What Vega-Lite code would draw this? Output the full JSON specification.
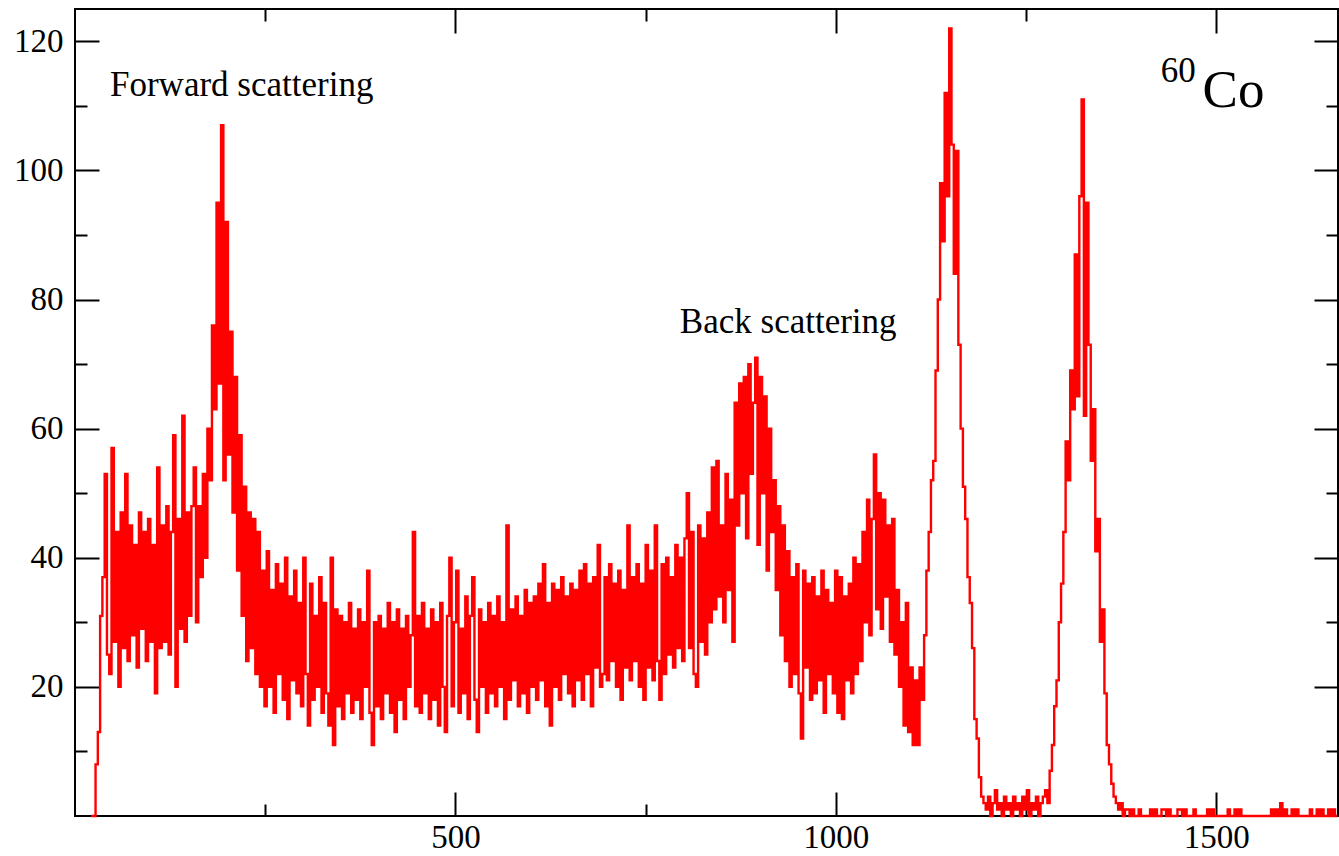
{
"$schema": "https://vega.github.io/schema/vega-lite/v6.json",
"width": 1263, "height": 807,
"autosize": {"type": "none"},
"padding": {"left": 75, "top": 9, "right": 1, "bottom": 40},
"background": "white",
"config": {
  "view": {"stroke": "black", "strokeWidth": 2},
  "axis": {"labelFont": "Liberation Serif", "labelFontSize": 33, "labelColor": "black", "tickColor": "black", "tickWidth": 2, "domain": false, "grid": false, "title": null, "labelOverlap": false, "labelFlush": false}
},
"resolve": {"axis": {"x": "independent", "y": "independent"}},
"layer": [
{
"data": {"values": [
{"ch":21,"counts":0},{"ch":24,"counts":0},{"ch":27,"counts":8},{"ch":30,"counts":13},{"ch":33,"counts":31},{"ch":36,"counts":37},
{"ch":39,"counts":53},{"ch":42,"counts":25},{"ch":45,"counts":22},{"ch":48,"counts":57},{"ch":51,"counts":27},{"ch":54,"counts":44},{"ch":57,"counts":20},{"ch":60,"counts":47},{"ch":63,"counts":26},{"ch":66,"counts":53},{"ch":69,"counts":24},{"ch":72,"counts":45},{"ch":75,"counts":28},{"ch":78,"counts":42},{"ch":81,"counts":23},{"ch":84,"counts":47},{"ch":87,"counts":29},{"ch":90,"counts":44},{"ch":93,"counts":24},{"ch":96,"counts":46},{"ch":99,"counts":27},{"ch":102,"counts":42},{"ch":105,"counts":19},{"ch":108,"counts":54},{"ch":111,"counts":26},{"ch":114,"counts":45},{"ch":117,"counts":27},{"ch":120,"counts":48},{"ch":123,"counts":25},{"ch":126,"counts":44},{"ch":129,"counts":59},{"ch":132,"counts":20},{"ch":135,"counts":46},{"ch":138,"counts":29},{"ch":141,"counts":62},{"ch":144,"counts":27},{"ch":147,"counts":47},{"ch":150,"counts":31},{"ch":153,"counts":48},{"ch":156,"counts":54},{"ch":159,"counts":30},{"ch":162,"counts":48},{"ch":165,"counts":37},
{"ch":168,"counts":53},{"ch":171,"counts":40},{"ch":174,"counts":60},{"ch":177,"counts":52},{"ch":180,"counts":76},{"ch":183,"counts":63},{"ch":186,"counts":95},{"ch":189,"counts":67},{"ch":192,"counts":107},{"ch":195,"counts":52},{"ch":198,"counts":92},{"ch":201,"counts":56},{"ch":204,"counts":75},{"ch":207,"counts":47},{"ch":210,"counts":68},{"ch":213,"counts":38},{"ch":216,"counts":59},{"ch":219,"counts":31},{"ch":222,"counts":51},{"ch":225,"counts":24},{"ch":228,"counts":47},{"ch":231,"counts":26},{"ch":234,"counts":46},{"ch":237,"counts":22},{"ch":240,"counts":44},{"ch":243,"counts":20},
{"ch":246,"counts":38},{"ch":249,"counts":17},{"ch":252,"counts":41},{"ch":255,"counts":20},{"ch":258,"counts":35},{"ch":261,"counts":16},{"ch":264,"counts":39},{"ch":267,"counts":22},{"ch":270,"counts":36},{"ch":273,"counts":18},{"ch":276,"counts":40},{"ch":279,"counts":15},{"ch":282,"counts":34},{"ch":285,"counts":21},{"ch":288,"counts":38},{"ch":291,"counts":19},{"ch":294,"counts":33},{"ch":297,"counts":17},{"ch":300,"counts":40},{"ch":303,"counts":22},{"ch":306,"counts":14},{"ch":309,"counts":36},{"ch":312,"counts":18},{"ch":315,"counts":31},{"ch":318,"counts":20},{"ch":321,"counts":37},{"ch":324,"counts":16},{"ch":327,"counts":33},{"ch":330,"counts":19},{"ch":333,"counts":14},{"ch":336,"counts":40},{"ch":339,"counts":11},{"ch":342,"counts":32},
{"ch":345,"counts":17},{"ch":348,"counts":31},{"ch":351,"counts":15},{"ch":354,"counts":30},{"ch":357,"counts":19},{"ch":360,"counts":33},{"ch":363,"counts":16},{"ch":366,"counts":29},{"ch":369,"counts":18},{"ch":372,"counts":32},{"ch":375,"counts":15},{"ch":378,"counts":30},{"ch":381,"counts":20},{"ch":384,"counts":38},{"ch":387,"counts":16},{"ch":390,"counts":11},{"ch":393,"counts":30},{"ch":396,"counts":17},{"ch":399,"counts":31},{"ch":402,"counts":15},{"ch":405,"counts":29},{"ch":408,"counts":19},{"ch":411,"counts":33},{"ch":414,"counts":16},{"ch":417,"counts":30},{"ch":420,"counts":13},{"ch":423,"counts":32},{"ch":426,"counts":18},{"ch":429,"counts":29},{"ch":432,"counts":15},{"ch":435,"counts":31},{"ch":438,"counts":20},{"ch":441,"counts":28},{"ch":444,"counts":44},{"ch":447,"counts":17},{"ch":450,"counts":31},{"ch":453,"counts":16},{"ch":456,"counts":33},{"ch":459,"counts":19},{"ch":462,"counts":29},{"ch":465,"counts":15},{"ch":468,"counts":32},{"ch":471,"counts":18},{"ch":474,"counts":30},{"ch":477,"counts":14},{"ch":480,"counts":33},{"ch":483,"counts":20},{"ch":486,"counts":13},{"ch":489,"counts":31},{"ch":492,"counts":40},{"ch":495,"counts":17},{"ch":498,"counts":30},{"ch":501,"counts":38},{"ch":504,"counts":16},{"ch":507,"counts":29},{"ch":510,"counts":19},{"ch":513,"counts":34},{"ch":516,"counts":15},{"ch":519,"counts":31},{"ch":522,"counts":37},{"ch":525,"counts":18},{"ch":528,"counts":13},{"ch":531,"counts":32},{"ch":534,"counts":20},{"ch":537,"counts":30},{"ch":540,"counts":16},{"ch":543,"counts":33},{"ch":546,"counts":19},{"ch":549,"counts":31},{"ch":552,"counts":17},{"ch":555,"counts":34},{"ch":558,"counts":20},{"ch":561,"counts":30},{"ch":564,"counts":15},{"ch":567,"counts":45},{"ch":570,"counts":18},{"ch":573,"counts":32},{"ch":576,"counts":21},{"ch":579,"counts":34},{"ch":582,"counts":17},{"ch":585,"counts":31},{"ch":588,"counts":19},{"ch":591,"counts":35},{"ch":594,"counts":16},{"ch":597,"counts":33},{"ch":600,"counts":20},
{"ch":603,"counts":34},{"ch":606,"counts":18},{"ch":609,"counts":36},{"ch":612,"counts":21},{"ch":615,"counts":39},{"ch":618,"counts":17},{"ch":621,"counts":33},{"ch":624,"counts":14},{"ch":627,"counts":36},{"ch":630,"counts":20},{"ch":633,"counts":35},{"ch":636,"counts":18},{"ch":639,"counts":37},{"ch":642,"counts":22},{"ch":645,"counts":34},{"ch":648,"counts":19},{"ch":651,"counts":36},{"ch":654,"counts":17},{"ch":657,"counts":35},{"ch":660,"counts":21},{"ch":663,"counts":38},{"ch":666,"counts":18},{"ch":669,"counts":39},{"ch":672,"counts":22},{"ch":675,"counts":36},{"ch":678,"counts":17},{"ch":681,"counts":37},{"ch":684,"counts":23},{"ch":687,"counts":42},{"ch":690,"counts":20},
{"ch":693,"counts":22},{"ch":696,"counts":37},{"ch":699,"counts":21},{"ch":702,"counts":39},{"ch":705,"counts":24},{"ch":708,"counts":36},{"ch":711,"counts":20},{"ch":714,"counts":38},{"ch":717,"counts":18},{"ch":720,"counts":35},{"ch":723,"counts":23},{"ch":726,"counts":45},{"ch":729,"counts":21},{"ch":732,"counts":37},{"ch":735,"counts":24},{"ch":738,"counts":39},{"ch":741,"counts":20},{"ch":744,"counts":36},{"ch":747,"counts":18},{"ch":750,"counts":42},{"ch":753,"counts":23},{"ch":756,"counts":38},{"ch":759,"counts":21},{"ch":762,"counts":45},{"ch":765,"counts":24},{"ch":768,"counts":18},{"ch":771,"counts":39},{"ch":774,"counts":22},{"ch":777,"counts":40},{"ch":780,"counts":25},{"ch":783,"counts":37},{"ch":786,"counts":23},{"ch":789,"counts":42},{"ch":792,"counts":26},{"ch":795,"counts":40},
{"ch":798,"counts":24},{"ch":801,"counts":43},{"ch":804,"counts":50},{"ch":807,"counts":26},{"ch":810,"counts":44},{"ch":813,"counts":22},{"ch":816,"counts":20},{"ch":819,"counts":45},{"ch":822,"counts":27},{"ch":825,"counts":43},{"ch":828,"counts":25},{"ch":831,"counts":47},{"ch":834,"counts":30},
{"ch":837,"counts":54},{"ch":840,"counts":32},{"ch":843,"counts":55},{"ch":846,"counts":34},{"ch":849,"counts":45},{"ch":852,"counts":30},{"ch":855,"counts":53},{"ch":858,"counts":35},{"ch":861,"counts":49},{"ch":864,"counts":27},{"ch":867,"counts":64},
{"ch":870,"counts":45},{"ch":873,"counts":67},{"ch":876,"counts":50},{"ch":879,"counts":68},{"ch":882,"counts":43},{"ch":885,"counts":70},{"ch":888,"counts":53},{"ch":891,"counts":64},{"ch":894,"counts":71},{"ch":897,"counts":42},{"ch":900,"counts":68},{"ch":903,"counts":50},{"ch":906,"counts":65},{"ch":909,"counts":38},
{"ch":912,"counts":60},{"ch":915,"counts":44},{"ch":918,"counts":52},{"ch":921,"counts":35},{"ch":924,"counts":48},{"ch":927,"counts":28},{"ch":930,"counts":45},{"ch":933,"counts":24},{"ch":936,"counts":41},
{"ch":939,"counts":20},{"ch":942,"counts":37},{"ch":945,"counts":22},{"ch":948,"counts":39},{"ch":951,"counts":19},{"ch":954,"counts":12},{"ch":957,"counts":38},{"ch":960,"counts":23},{"ch":963,"counts":36},{"ch":966,"counts":18},{"ch":969,"counts":37},{"ch":972,"counts":19},{"ch":975,"counts":34},{"ch":978,"counts":21},{"ch":981,"counts":38},{"ch":984,"counts":16},{"ch":987,"counts":35},{"ch":990,"counts":22},{"ch":993,"counts":33},{"ch":996,"counts":19},{"ch":999,"counts":38},{"ch":1002,"counts":16},{"ch":1005,"counts":37},{"ch":1008,"counts":15},{"ch":1011,"counts":34},{"ch":1014,"counts":21},{"ch":1017,"counts":36},{"ch":1020,"counts":19},{"ch":1023,"counts":40},{"ch":1026,"counts":22},{"ch":1029,"counts":39},{"ch":1032,"counts":24},{"ch":1035,"counts":44},
{"ch":1038,"counts":30},{"ch":1041,"counts":49},{"ch":1044,"counts":28},{"ch":1047,"counts":46},{"ch":1050,"counts":56},{"ch":1053,"counts":32},{"ch":1056,"counts":50},{"ch":1059,"counts":29},{"ch":1062,"counts":49},{"ch":1065,"counts":34},{"ch":1068,"counts":45},{"ch":1071,"counts":27},{"ch":1074,"counts":46},
{"ch":1077,"counts":25},{"ch":1080,"counts":35},{"ch":1083,"counts":20},{"ch":1086,"counts":30},{"ch":1089,"counts":14},{"ch":1092,"counts":33},
{"ch":1095,"counts":13},{"ch":1098,"counts":23},{"ch":1101,"counts":11},{"ch":1104,"counts":21},{"ch":1107,"counts":11},{"ch":1110,"counts":23},{"ch":1113,"counts":18},{"ch":1116,"counts":28},{"ch":1119,"counts":38},{"ch":1122,"counts":44},{"ch":1125,"counts":52},{"ch":1128,"counts":55},{"ch":1131,"counts":69},{"ch":1134,"counts":80},{"ch":1137,"counts":98},{"ch":1140,"counts":89},{"ch":1143,"counts":112},{"ch":1146,"counts":96},{"ch":1149,"counts":122},{"ch":1152,"counts":104},{"ch":1155,"counts":84},{"ch":1158,"counts":103},{"ch":1161,"counts":73},{"ch":1164,"counts":60},{"ch":1167,"counts":51},{"ch":1170,"counts":46},{"ch":1173,"counts":37},{"ch":1176,"counts":33},{"ch":1179,"counts":26},{"ch":1182,"counts":15},{"ch":1185,"counts":12},{"ch":1188,"counts":6},{"ch":1191,"counts":3},{"ch":1194,"counts":2},
{"ch":1197,"counts":1},{"ch":1200,"counts":3},{"ch":1203,"counts":0},{"ch":1206,"counts":2},{"ch":1209,"counts":4},{"ch":1212,"counts":1},{"ch":1215,"counts":2},{"ch":1218,"counts":0},{"ch":1221,"counts":3},{"ch":1224,"counts":1},{"ch":1227,"counts":2},{"ch":1230,"counts":0},{"ch":1233,"counts":3},{"ch":1236,"counts":1},{"ch":1239,"counts":2},{"ch":1242,"counts":0},{"ch":1245,"counts":3},{"ch":1248,"counts":1},{"ch":1251,"counts":4},{"ch":1254,"counts":0},{"ch":1257,"counts":2},{"ch":1260,"counts":1},{"ch":1263,"counts":3},{"ch":1266,"counts":0},{"ch":1269,"counts":2},{"ch":1272,"counts":3},{"ch":1275,"counts":4},
{"ch":1278,"counts":2},{"ch":1281,"counts":7},{"ch":1284,"counts":11},{"ch":1287,"counts":17},{"ch":1290,"counts":21},{"ch":1293,"counts":30},{"ch":1296,"counts":36},{"ch":1299,"counts":44},{"ch":1302,"counts":58},{"ch":1305,"counts":52},{"ch":1308,"counts":69},{"ch":1311,"counts":63},{"ch":1314,"counts":87},{"ch":1317,"counts":65},{"ch":1320,"counts":96},{"ch":1323,"counts":111},{"ch":1326,"counts":62},{"ch":1329,"counts":95},{"ch":1332,"counts":73},{"ch":1335,"counts":55},{"ch":1338,"counts":63},{"ch":1341,"counts":41},{"ch":1344,"counts":46},{"ch":1347,"counts":27},{"ch":1350,"counts":32},{"ch":1353,"counts":19},{"ch":1356,"counts":11},{"ch":1359,"counts":8},{"ch":1362,"counts":5},{"ch":1365,"counts":3},{"ch":1368,"counts":2},{"ch":1371,"counts":1},{"ch":1374,"counts":2},{"ch":1377,"counts":0},
{"ch":1380,"counts":1},{"ch":1383,"counts":1},{"ch":1386,"counts":0},{"ch":1389,"counts":1},{"ch":1392,"counts":0},{"ch":1395,"counts":0},{"ch":1398,"counts":1},{"ch":1401,"counts":0},{"ch":1404,"counts":0},{"ch":1407,"counts":0},{"ch":1410,"counts":0},{"ch":1413,"counts":1},{"ch":1416,"counts":0},{"ch":1419,"counts":1},{"ch":1422,"counts":0},{"ch":1425,"counts":0},{"ch":1428,"counts":1},{"ch":1431,"counts":1},{"ch":1434,"counts":0},{"ch":1437,"counts":1},{"ch":1440,"counts":0},{"ch":1443,"counts":0},{"ch":1446,"counts":0},{"ch":1449,"counts":1},{"ch":1452,"counts":1},{"ch":1455,"counts":0},{"ch":1458,"counts":1},{"ch":1461,"counts":0},{"ch":1464,"counts":0},{"ch":1467,"counts":0},{"ch":1470,"counts":1},{"ch":1473,"counts":0},{"ch":1476,"counts":0},{"ch":1479,"counts":0},{"ch":1482,"counts":0},{"ch":1485,"counts":0},{"ch":1488,"counts":1},{"ch":1491,"counts":0},{"ch":1494,"counts":1},{"ch":1497,"counts":0},{"ch":1500,"counts":0},{"ch":1503,"counts":0},{"ch":1506,"counts":0},{"ch":1509,"counts":0},{"ch":1512,"counts":0},{"ch":1515,"counts":1},{"ch":1518,"counts":0},{"ch":1521,"counts":0},{"ch":1524,"counts":1},{"ch":1527,"counts":0},{"ch":1530,"counts":1},{"ch":1533,"counts":0},{"ch":1536,"counts":0},{"ch":1539,"counts":0},{"ch":1542,"counts":0},{"ch":1545,"counts":0},{"ch":1548,"counts":0},{"ch":1551,"counts":0},{"ch":1554,"counts":0},{"ch":1557,"counts":0},{"ch":1560,"counts":0},{"ch":1563,"counts":0},{"ch":1566,"counts":0},{"ch":1569,"counts":0},{"ch":1572,"counts":1},{"ch":1575,"counts":0},{"ch":1578,"counts":1},{"ch":1581,"counts":0},{"ch":1584,"counts":2},{"ch":1587,"counts":0},{"ch":1590,"counts":1},{"ch":1593,"counts":0},{"ch":1596,"counts":0},{"ch":1599,"counts":1},{"ch":1602,"counts":0},{"ch":1605,"counts":1},{"ch":1608,"counts":0},{"ch":1611,"counts":0},{"ch":1614,"counts":0},{"ch":1617,"counts":0},{"ch":1620,"counts":0},{"ch":1623,"counts":1},{"ch":1626,"counts":0},{"ch":1629,"counts":0},{"ch":1632,"counts":1},{"ch":1635,"counts":0},{"ch":1638,"counts":1},{"ch":1641,"counts":0},{"ch":1644,"counts":0},{"ch":1647,"counts":1},{"ch":1650,"counts":0},{"ch":1653,"counts":1},{"ch":1656,"counts":0},{"ch":1659,"counts":0}
]},
"mark": {"type": "line", "interpolate": "step-after", "color": "#ff0000", "strokeWidth": 2.4},
"encoding": {
  "x": {"field": "ch", "type": "quantitative", "scale": {"domain": [0, 1660], "nice": false, "zero": false},
        "axis": {"orient": "bottom", "values": [250, 500, 750, 1000, 1250, 1500], "format": "d",
                 "tickSize": {"condition": {"test": "datum.value % 500 === 0", "value": -24}, "value": -12},
                 "labelExpr": "datum.value % 500 === 0 ? datum.label : ''", "labelPadding": 29}},
  "y": {"field": "counts", "type": "quantitative", "scale": {"domain": [0, 125], "nice": false, "zero": false},
        "axis": {"orient": "left", "values": [10, 20, 30, 40, 50, 60, 70, 80, 90, 100, 110, 120], "format": "d",
                 "tickSize": {"condition": {"test": "datum.value % 20 === 0", "value": -24}, "value": -12},
                 "labelExpr": "datum.value % 20 === 0 ? datum.label : ''", "labelPadding": 36}}
}
},
{
"data": {"values": [
  {"ch": 46, "counts": 111.5, "label": "Forward scattering"},
  {"ch": 795, "counts": 74.8, "label": "Back scattering"},
  {"ch": 1427, "counts": 113.7, "label": "60"}
]},
"mark": {"type": "text", "font": "Liberation Serif", "fontSize": 35, "align": "left", "baseline": "alphabetic", "color": "black"},
"encoding": {
  "x": {"field": "ch", "type": "quantitative", "scale": {"domain": [0, 1660], "nice": false, "zero": false},
        "axis": {"orient": "top", "values": [250, 500, 750, 1000, 1250, 1500], "labels": false,
                 "tickSize": {"condition": {"test": "datum.value % 500 === 0", "value": -24}, "value": -12}}},
  "y": {"field": "counts", "type": "quantitative", "scale": {"domain": [0, 125], "nice": false, "zero": false},
        "axis": {"orient": "right", "values": [10, 20, 30, 40, 50, 60, 70, 80, 90, 100, 110, 120], "labels": false,
                 "tickSize": {"condition": {"test": "datum.value % 20 === 0", "value": -24}, "value": -12}}},
  "text": {"field": "label"}
}
},
{
"data": {"values": [{"ch": 1482, "counts": 109.8, "label": "Co"}]},
"mark": {"type": "text", "font": "Liberation Serif", "fontSize": 53, "align": "left", "baseline": "alphabetic", "color": "black"},
"encoding": {
  "x": {"field": "ch", "type": "quantitative", "axis": null},
  "y": {"field": "counts", "type": "quantitative", "axis": null},
  "text": {"field": "label"}
}
}
]
}
